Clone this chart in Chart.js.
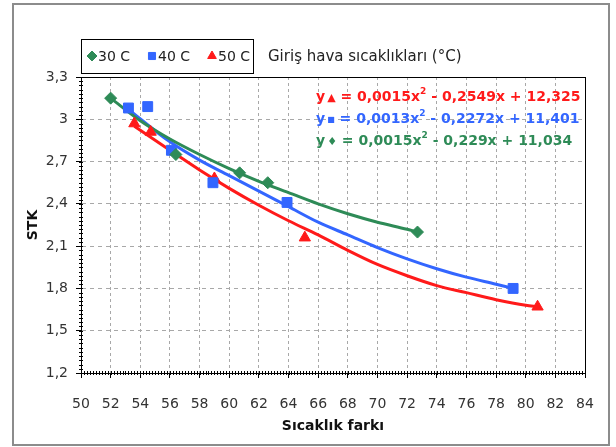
<!DOCTYPE html>
<html>
<head>
<meta charset="utf-8">
<script src="https://cdn.jsdelivr.net/npm/chart.js@4.4.1/dist/chart.umd.min.js"></script>
<style>
  html, body { margin: 0; padding: 0; background: #fff; }
  canvas { display: block; }
</style>
</head>
<body>
<canvas id="myChart" width="616" height="447"></canvas>
<script>
// series names, colours, marker shapes
const seriesLabels = ['30 C', '40 C', '50 C'];
const seriesColors = ['#2e8b57', '#3366ff', '#ff1a1a'];
const seriesMarkers = ['rectRot', 'rect', 'triangle'];

// measured points (x = Sıcaklık farkı, y = STK)
const x30 = [52.0, 56.4, 60.7, 62.6, 72.7];
const y30 = [3.15, 2.75, 2.62, 2.55, 2.20];
const x40 = [53.2, 54.5, 56.1, 58.9, 63.9, 79.15];
const y40 = [3.08, 3.09, 2.78, 2.55, 2.41, 1.80];
const x50 = [53.6, 54.7, 59.0, 65.1, 80.8];
const y50 = [2.97, 2.91, 2.58, 2.16, 1.67];

// trendlines
const trendX30 = [52, 54, 56, 58, 60, 62, 64, 66, 68, 70, 72, 72.7];
const trendY30 = [3.15, 2.99, 2.86, 2.75, 2.65, 2.56, 2.48, 2.40, 2.33, 2.27, 2.22, 2.20];
const trendX40 = [53.2, 56, 58, 60, 62, 64, 66, 68, 70, 72, 74, 76, 78, 79.15];
const trendY40 = [3.07, 2.84, 2.71, 2.60, 2.49, 2.38, 2.27, 2.18, 2.09, 2.01, 1.94, 1.88, 1.83, 1.80];
const trendX50 = [53.6, 56, 58, 60, 62, 64, 66, 68, 70, 72, 74, 76, 78, 80, 80.8];
const trendY50 = [2.95, 2.78, 2.64, 2.51, 2.39, 2.28, 2.18, 2.07, 1.97, 1.89, 1.82, 1.77, 1.72, 1.68, 1.67];

// trendline equations, top to bottom (50 C, 40 C, 30 C)
const equationSeries = [2, 1, 0];
const equationSymbols = ['▲', '■', '♦'];
const equationSymbolSize = [11, 8, 11];
const equationTerms = [
  [' = 0,0015x', ' - 0,2549x + 12,325'],
  [' = 0,0013x', ' - 0,2272x + 11,401'],
  [' = 0,0015x', ' - 0,229x + 11,034']
];

// axes
const xMin = 50, xMax = 84, xStep = 2;
const yMin = 1.2, yMax = 3.3, yStep = 0.3;
const xTitle = 'Sıcaklık farkı';
const yTitle = 'STK';
const legendNote = 'Giriş hava sıcaklıkları (°C)';

const FONT = '"DejaVu Sans", Verdana, sans-serif';

function pts(xs, ys) {
  return xs.map((x, i) => ({ x: x, y: ys[i] }));
}

function fmt(v) {
  return String(Number(v.toFixed(2))).replace('.', ',');
}

const markerSets = [[x30, y30], [x40, y40], [x50, y50]];
const trendSets = [[trendX30, trendY30], [trendX40, trendY40], [trendX50, trendY50]];
const markerRadius = [6, 7, 6.5];

const datasets = [];
markerSets.forEach((s, i) => {
  datasets.push({
    label: seriesLabels[i],
    data: pts(s[0], s[1]),
    showLine: false,
    pointStyle: seriesMarkers[i],
    pointRadius: markerRadius[i],
    pointBackgroundColor: seriesColors[i],
    pointBorderColor: seriesColors[i],
    pointBorderWidth: 1,
    order: 1
  });
});
trendSets.forEach((s, i) => {
  datasets.push({
    label: seriesLabels[i] + ' trend',
    data: pts(s[0], s[1]),
    showLine: true,
    borderColor: seriesColors[i],
    borderWidth: 3,
    pointRadius: 0,
    cubicInterpolationMode: 'monotone',
    fill: false,
    order: 2
  });
});

// outer frame, plot border, minor ticks, legend box, equations
const decorPlugin = {
  id: 'decor',
  beforeDraw(chart) {
    const ctx = chart.ctx;
    ctx.save();
    ctx.fillStyle = '#fff';
    ctx.fillRect(0, 0, chart.width, chart.height);
    ctx.strokeStyle = '#8c8c8c';
    ctx.lineWidth = 2;
    ctx.strokeRect(13, 4, 596, 441);
    ctx.restore();
  },
  afterDatasetsDraw(chart) {
    const ctx = chart.ctx;
    const a = chart.chartArea;
    const xs = chart.scales.x, ys = chart.scales.y;
    ctx.save();
    // plot border
    ctx.strokeStyle = '#000';
    ctx.lineWidth = 1;
    ctx.setLineDash([]);
    ctx.strokeRect(Math.round(a.left) + 0.5, Math.round(a.top) + 0.5,
      Math.round(a.right - a.left), Math.round(a.bottom - a.top));
    // minor ticks
    ctx.beginPath();
    for (let v = yMin; v <= yMax + 1e-9; v += yStep / 10) {
      const p = Math.round(ys.getPixelForValue(v)) + 0.5;
      ctx.moveTo(a.left - 2, p);
      ctx.lineTo(a.left + 2, p);
    }
    for (let v = xMin; v <= xMax + 1e-9; v += xStep / 10) {
      const p = Math.round(xs.getPixelForValue(v)) + 0.5;
      ctx.moveTo(p, a.bottom - 2);
      ctx.lineTo(p, a.bottom + 2);
    }
    ctx.stroke();

    // legend box
    const lx = 81, ly = 39, lw = 172, lh = 34;
    ctx.fillStyle = '#fff';
    ctx.fillRect(lx, ly, lw, lh);
    ctx.strokeStyle = '#000';
    ctx.strokeRect(lx + 0.5, ly + 0.5, lw, lh);
    ctx.font = '14px ' + FONT;
    ctx.textBaseline = 'middle';
    let cx = lx + 11;
    const cy = ly + lh / 2;
    seriesLabels.forEach((lab, i) => {
      const ds = chart.data.datasets[i];
      ctx.fillStyle = seriesColors[i];
      ctx.strokeStyle = seriesColors[i];
      Chart.helpers.drawPoint(ctx, {
        pointStyle: ds.pointStyle,
        radius: 5,
        borderWidth: 1,
        rotation: 0
      }, cx, cy);
      ctx.fillStyle = '#222';
      ctx.textAlign = 'left';
      ctx.fillText(lab, cx + 6, cy + 1);
      cx += 60;
    });
    ctx.font = '15px ' + FONT;
    ctx.fillStyle = '#222';
    ctx.fillText(legendNote, 268, cy + 1);

    // equations
    equationTerms.forEach((terms, r) => {
      const color = seriesColors[equationSeries[r]];
      let ex = 316;
      const ey = a.top + 20 + r * 22;
      ctx.fillStyle = color;
      ctx.textBaseline = 'middle';
      ctx.textAlign = 'left';
      ctx.font = 'bold 14px ' + FONT;
      ctx.fillText('y', ex, ey);
      ex += ctx.measureText('y').width + 2;
      ctx.font = 'bold ' + equationSymbolSize[r] + 'px ' + FONT;
      ctx.fillText(equationSymbols[r], ex, ey + 1);
      ex += ctx.measureText(equationSymbols[r]).width;
      ctx.font = 'bold 14px ' + FONT;
      ctx.fillText(terms[0], ex, ey);
      ex += ctx.measureText(terms[0]).width;
      ctx.font = 'bold 9px ' + FONT;
      ctx.fillText('2', ex, ey - 5);
      ex += ctx.measureText('2').width;
      ctx.font = 'bold 14px ' + FONT;
      ctx.fillText(terms[1], ex, ey);
    });
    ctx.restore();
  }
};

new Chart(document.getElementById('myChart'), {
  type: 'scatter',
  data: { datasets: datasets },
  plugins: [decorPlugin],
  options: {
    responsive: false,
    animation: false,
    devicePixelRatio: 1,
    layout: { padding: { left: 15, right: 31, top: 77, bottom: 8 } },
    plugins: {
      legend: { display: false },
      tooltip: { enabled: false }
    },
    scales: {
      x: {
        type: 'linear',
        min: xMin,
        max: xMax,
        afterFit(scale) { scale.height = 66; },
        ticks: {
          stepSize: xStep,
          padding: 18,
          color: '#333',
          font: { family: FONT, size: 14 },
          callback: v => fmt(v)
        },
        grid: {
          color: '#a8a8a8',
          tickColor: '#000',
          tickLength: 5
        },
        border: { display: true, color: '#000', dash: [3, 3] },
        title: {
          display: true,
          text: xTitle,
          color: '#111',
          font: { family: FONT, size: 14, weight: 'bold' },
          padding: { top: 0, bottom: 4 }
        }
      },
      y: {
        type: 'linear',
        min: yMin,
        max: yMax,
        afterFit(scale) { scale.width = 66; },
        ticks: {
          stepSize: yStep,
          padding: 8,
          color: '#333',
          font: { family: FONT, size: 14 },
          callback: v => fmt(v)
        },
        grid: {
          color: '#a8a8a8',
          tickColor: '#000',
          tickLength: 5
        },
        border: { display: true, color: '#000', dash: [4, 4] },
        title: {
          display: true,
          text: yTitle,
          color: '#111',
          font: { family: FONT, size: 14, weight: 'bold' },
          padding: { top: 10, bottom: 4 }
        }
      }
    }
  }
});
</script>
</body>
</html>
